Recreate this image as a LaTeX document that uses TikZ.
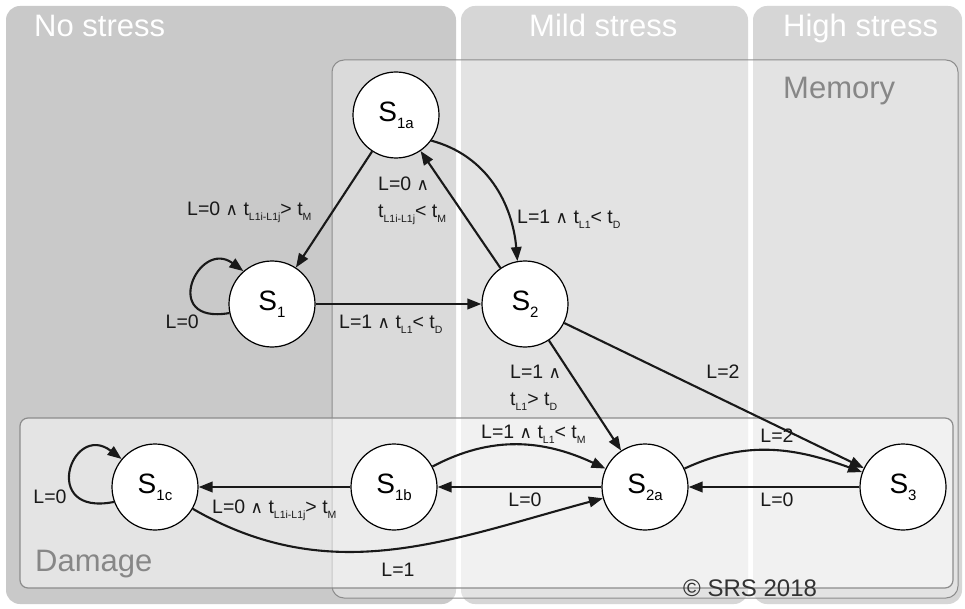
\documentclass[tikz,border=0pt]{standalone}
\usepackage{fontspec}
\setmainfont{Liberation Sans}
\newfontfamily\djvfont{DejaVu Sans}
\usetikzlibrary{arrows.meta}
\definecolor{nostress}{RGB}{201,201,201}
\definecolor{mildc}{RGB}{214,214,214}
\definecolor{boxline}{RGB}{140,140,140}
\definecolor{boxtext}{RGB}{135,135,135}
\definecolor{inkc}{RGB}{25,25,25}
\newcommand\wedg{{\djvfont\fontsize{17}{17}\selectfont ∧}}
\newcommand\lsb[1]{\raisebox{-0.45ex}{\fontsize{10.5}{10.5}\selectfont #1}}
\newcommand\nsb[1]{\raisebox{-0.5ex}{\fontsize{15}{15}\selectfont #1}}
\begin{document}
\begin{tikzpicture}[x=1pt,y=-1pt,
  state/.style={circle,draw=black,line width=1.2pt,fill=white,minimum size=86pt,inner sep=0pt,font=\fontsize{28}{28}\selectfont},
  edge/.style={line width=2.1pt,draw=inkc,-{Triangle[length=14pt,width=10.5pt]}},
  elab/.style={font=\fontsize{19.5}{27}\selectfont,inner sep=0pt,text=inkc},
  title/.style={font=\fontsize{31}{31}\selectfont,text=white,inner sep=0pt},
  boxlab/.style={font=\fontsize{31}{31}\selectfont,text=boxtext,inner sep=0pt}]
\useasboundingbox (0,0) rectangle (965,609);
\fill[white] (0,0) rectangle (965,609);
% stress columns
\fill[nostress,rounded corners=14pt] (6,6) rectangle (456,604);
\fill[mildc,rounded corners=14pt] (461,6) rectangle (748,604);
\fill[mildc,rounded corners=14pt] (753,6) rectangle (962,604);
% memory and damage regions
\filldraw[fill=white,fill opacity=0.32,draw=boxline,line width=1pt,rounded corners=12pt] (332,60) rectangle (958,598);
\filldraw[fill=white,fill opacity=0.5,draw=boxline,line width=1.2pt,rounded corners=8pt] (20,418) rectangle (953,588);
% titles
\node[title,anchor=base west] (tno) at (34,37) {No stress};
\node[title,anchor=base west] (tmild) at (529,37) {Mild stress};
\node[title,anchor=base west] (thigh) at (783,37) {High stress};
\node[boxlab,anchor=base west] (tmem) at (783,99) {Memory};
\node[boxlab,anchor=base west] (tdam) at (35,571) {Damage};
\node[anchor=base west,inner sep=0pt,font=\fontsize{24}{24}\selectfont,text=black!80] (copy) at (683,596) {© SRS 2018};
% states
\node[state] (S1a) at (396,115) {S\nsb{1a}};
\node[state] (S1) at (272,304) {S\nsb{1}};
\node[state] (S2) at (525,304) {S\nsb{2}};
\node[state] (S1c) at (155,487) {S\nsb{1c}};
\node[state] (S1b) at (394,487) {S\nsb{1b}};
\node[state] (S2a) at (645,487) {S\nsb{2a}};
\node[state] (S3) at (903,487) {S\nsb{3}};
% transitions
\draw[edge] (S1a) -- (S1);
\draw[edge] (S2) -- (S1a);
\draw[edge] (S1a.-36) to[out=-15,in=95] (S2.100);
\draw[edge] (S1) -- (S2);
\draw[edge] (S1.192) .. controls +(-70,12) and +(-45,-33) .. (S1.131);
\draw[edge] (S2) -- (S2a);
\draw[edge] (S2) -- (S3);
\draw[edge] (S1b) to[out=28,in=155] (S2a);
\draw[edge] (S2a) -- (S1b);
\draw[edge] (S1b) -- (S1c);
\draw[edge] (S1c) to[out=-30,in=195] (S2a);
\draw[edge] (S1c.200) .. controls +(-75,15) and +(-50,-38) .. (S1c.140);
\draw[edge] (S2a) to[out=25,in=160] (S3);
\draw[edge] (S3) -- (S2a);
% labels
\node[elab,anchor=west] (l1) at (187,212) {L=0 \wedg{} t\lsb{L1i-L1j}> t\lsb{M}};
\node[elab,anchor=north west,align=left] (l2) at (378,177) {L=0 \wedg\\t\lsb{L1i-L1j}< t\lsb{M}};
\node[elab,anchor=west] (l3) at (517,219) {L=1 \wedg{} t\lsb{L1}< t\lsb{D}};
\node[elab,anchor=west] (l4) at (339,324) {L=1 \wedg{} t\lsb{L1}< t\lsb{D}};
\node[elab,anchor=east] (l5) at (199,322) {L=0};
\node[elab,anchor=north west,align=left] (l6) at (510,365) {L=1 \wedg\\t\lsb{L1}> t\lsb{D}};
\node[elab] (l7) at (723,372) {L=2};
\node[elab,anchor=west] (l8) at (481,434) {L=1 \wedg{} t\lsb{L1}< t\lsb{M}};
\node[elab] (l9) at (525,500) {L=0};
\node[elab,anchor=west] (l10) at (212,510) {L=0 \wedg{} t\lsb{L1i-L1j}> t\lsb{M}};
\node[elab] (l11) at (398,570) {L=1};
\node[elab] (l12) at (50,497) {L=0};
\node[elab] (l13) at (777,436) {L=2};
\node[elab] (l14) at (777,500) {L=0};
\end{tikzpicture}
\end{document}
